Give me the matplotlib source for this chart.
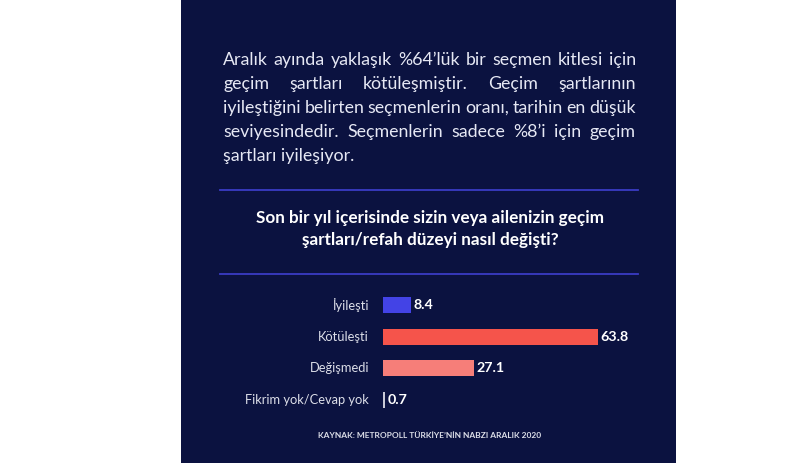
import matplotlib.pyplot as plt
from matplotlib.patches import Rectangle
from matplotlib.lines import Line2D

# Data
categories = ["İyileşti", "Kötüleşti", "Değişmedi", "Fikrim yok/Cevap yok"]
values = [8.4, 63.8, 27.1, 0.7]

intro_lines = [
    "Aralık ayında yaklaşık %64’lük bir seçmen kitlesi için",
    "geçim şartları kötüleşmiştir. Geçim şartlarının",
    "iyileştiğini belirten seçmenlerin oranı, tarihin en düşük",
    "seviyesindedir. Seçmenlerin sadece %8’i için geçim",
    "şartları iyileşiyor.",
]
question = "Son bir yıl içerisinde sizin veya ailenizin geçim\nşartları/refah düzeyi nasıl değişti?"
source = "KAYNAK: METROPOLL TÜRKİYE’NİN NABZI ARALIK 2020"

BG = "#0b1240"
RULE = "#3a3cc4"
bar_colors = ["#4343e6", "#f5544b", "#f67e79", "#c9c9d6"]
W, H = 800, 463

plt.rcParams["font.family"] = ["Lato", "DejaVu Sans"]
fig = plt.figure(figsize=(W / 100, H / 100), dpi=100)
fig.patch.set_facecolor("white")


def fx(px):
    return px / W


def fy(py):
    # py measured from the top of the image
    return 1 - py / H


fig.patches.append(Rectangle((fx(181), 0), fx(676) - fx(181), 1, transform=fig.transFigure,
                             facecolor=BG, edgecolor="none", zorder=-5))

# Justified intro paragraph
fig.canvas.draw()
renderer = fig.canvas.get_renderer()
left, right = 223, 636
line_y = [60, 84, 108, 132, 156]
txt_kw = dict(color="#e6e8f4", fontsize=12.8, va="center", ha="left")
for i, line in enumerate(intro_lines):
    y = fy(line_y[i])
    words = line.split()
    if i == len(intro_lines) - 1:
        fig.text(fx(left), y, line, **txt_kw)
        continue
    texts = [fig.text(0, y, w, **txt_kw) for w in words]
    widths = [t.get_window_extent(renderer).width for t in texts]
    gap = (right - left - sum(widths)) / (len(words) - 1)
    x = left
    for t, w in zip(texts, widths):
        t.set_x(fx(x))
        x += w + gap

# Rules around the question
for ry in (190, 274):
    fig.lines.append(Line2D([fx(220), fx(638)], [fy(ry), fy(ry)], transform=fig.transFigure,
                            color=RULE, lw=1.3))

fig.text(fx(430), fy(229), question, color="white", fontsize=12.3, fontweight="bold",
         ha="center", va="center", linespacing=1.45)

# Bar chart
ax = fig.add_axes([fx(383), 47.5 / H, (3.37 * 80) / W, 126 / H])
ax.set_zorder(2)
ax.set_facecolor("none")
ypos = range(len(categories))
ax.barh(ypos, values, height=0.52, color=bar_colors)
ax.set_xlim(0, 80)
ax.set_ylim(3.5, -0.5)
for y, v, c in zip(ypos, values, categories):
    ax.annotate(f"{v}", (v, y), xytext=(1.8, 0), textcoords="offset points", color="white",
                fontsize=10.3, fontweight="bold", va="center", ha="left")
    ax.annotate(c, (0, y), xytext=(-10, 0), textcoords="offset points", color="#dcdee8",
                fontsize=9.3, va="center", ha="right")
ax.set_xticks([])
ax.set_yticks([])
for s in ax.spines.values():
    s.set_visible(False)

fig.text(fx(430), fy(435), source, color="#dcdee8", fontsize=6.0, fontweight="bold",
         ha="center", va="center")

fig.savefig("out.png", dpi=100, facecolor=fig.get_facecolor())
